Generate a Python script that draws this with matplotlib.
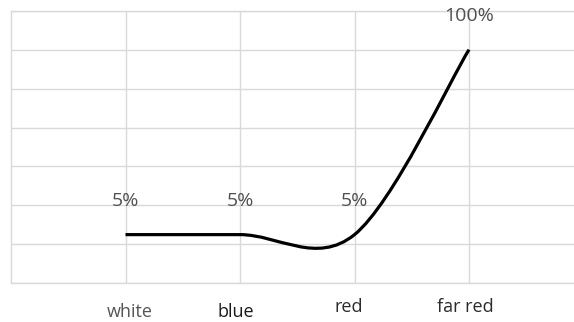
import matplotlib
matplotlib.use("Agg")
import matplotlib.pyplot as plt
import numpy as np
from matplotlib.path import Path
from matplotlib.patches import PathPatch
import matplotlib.transforms as mtransforms

plt.rcParams["font.family"] = ["Open Sans", "DejaVu Sans"]

categories = ["white", "blue", "red", "far red"]
values = [0.05, 0.05, 0.05, 1.00]
value_labels = ["5%", "5%", "5%", "100%"]

# style only: nudges of the category labels (points) and their colours
cat_offsets = [(3, -21), (-3, -21), (-4, -17), (-3, -17)]
cat_colors = ["#555555", "#1a1a1a", "#2b2b2b", "#2b2b2b"]

fig = plt.figure(figsize=(5.74, 3.22), dpi=100)
ax = fig.add_axes([11 / 574, 1 - 283.3 / 322, 572.5 / 574, 272.6 / 322])

x = np.arange(len(categories), dtype=float)
y = np.array(values, dtype=float)

# smoothed line (Excel style): cubic Bezier segments through each point
pts = np.column_stack([x, y])
ext = np.vstack([pts[0], pts, pts[-1]])
verts = [tuple(pts[0])]
codes = [Path.MOVETO]
for i in range(len(pts) - 1):
    p0, p1, p2, p3 = ext[i], ext[i + 1], ext[i + 2], ext[i + 3]
    c1 = p1 + (p2 - p0) / 6.0
    c2 = p2 - (p3 - p1) / 6.0
    verts += [tuple(c1), tuple(c2), tuple(p2)]
    codes += [Path.CURVE4] * 3
ax.add_patch(PathPatch(Path(verts, codes), facecolor="none", edgecolor="black",
                       lw=2.3, capstyle="butt", zorder=3))

for xi, yi, lab in zip(x, y, value_labels):
    ax.annotate(lab, (xi, yi), xytext=(0, 24.5), textcoords="offset points",
                ha="center", va="center", fontsize=14, color="#505050")

trans = mtransforms.blended_transform_factory(ax.transData, ax.transAxes)
for xi, lab, off, col in zip(x, categories, cat_offsets, cat_colors):
    ax.annotate(lab, (xi, 0), xycoords=trans, xytext=off, textcoords="offset points",
                ha="center", va="center", fontsize=13, color=col)

ax.set_xlim(-1, 4)
ax.set_ylim(-0.2, 1.2)
ax.set_xticks(x)
ax.set_yticks(np.arange(-0.2, 1.21, 0.2))
ax.set_xticklabels([])
ax.set_yticklabels([])
ax.tick_params(length=0)
ax.grid(True, color="#d9d9d9", lw=1.0)
for side in ["left", "top", "bottom", "right"]:
    ax.spines[side].set_color("#d9d9d9")
    ax.spines[side].set_linewidth(1.0)

fig.savefig("out.png", dpi=100)
